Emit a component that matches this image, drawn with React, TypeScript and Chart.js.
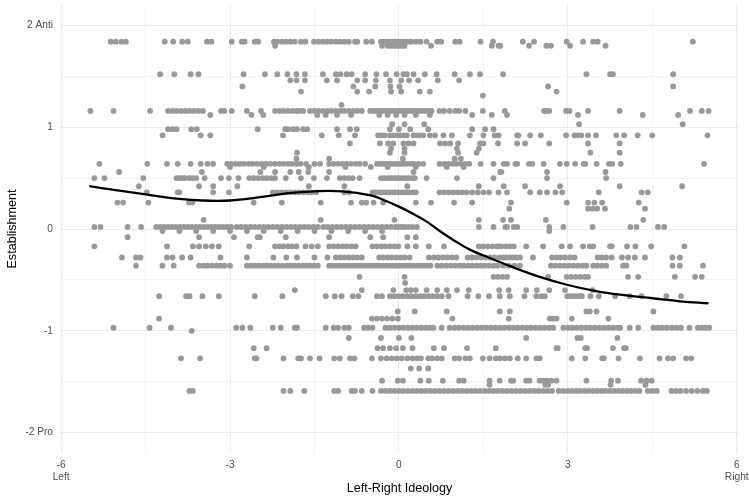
import React, { useEffect, useRef } from "react";
import { Chart, registerables } from "chart.js";
Chart.register(...registerables);

// ---- Data: x positions of the observed points at each y level ----
const r184 = [-5.12,-5.03,-4.93,-4.85,-4.16,-4.01,-3.85,-3.75,-3.41,-3.33,-2.97,-2.79,-2.74,-2.56,-2.5,-2.22,-2.16,-2.08,-2.01,-1.93,-1.85,-1.74,-1.66,-1.51,-1.43,-1.35,-1.28,-1.2,-1.12,-1.05,-0.97,-0.89,-0.78,-0.74,-0.58,-0.48,-0.32,-0.27,-0.22,-0.17,-0.12,-0.07,-0.02,0.03,0.08,0.13,0.18,0.22,0.3,0.38,0.49,0.68,0.75,1.0,1.08,1.45,1.67,2.2,2.4,2.98,3.27,3.45,3.53,5.22];
const r180 = [-2.2,-0.3,-0.2,-0.15,-0.1,-0.05,0.0,0.05,0.1,0.57,1.65,1.77,1.8,2.31,2.62,2.7,3.04,3.67];
const r152 = [-4.24,-3.99,-3.7,-3.56,-2.76,-2.38,-2.16,-1.98,-1.82,-1.67,-1.35,-1.12,-1.04,-0.93,-0.84,-0.6,-0.4,-0.23,-0.04,0.08,0.14,0.26,0.46,0.67,0.99,1.26,1.44,1.85,3.33,3.75,3.8,4.87];
const r146 = [-1.93,-1.82,-1.67,-1.28,-1.1,-0.74,-0.6,-0.41,-0.16,0.04,0.18,0.34,0.69,1.07];
const r140 = [-2.78,-0.81,-0.42,-0.15,0.01,2.65,4.87];
const r135 = [-1.74,-0.74,-0.53,-0.14,0.04,0.37,0.55,2.8];
const r131 = [1.49];
const r122 = [-1.02];
const r116 = [-5.48,-5.07,-4.42,-4.1,-4.02,-3.95,-3.87,-3.79,-3.72,-3.64,-3.56,-3.48,-3.16,-3.1,-2.97,-2.7,-2.45,-2.2,-2.12,-2.05,-1.97,-1.89,-1.82,-1.78,-1.7,-1.58,-1.5,-1.43,-1.35,-1.27,-1.2,-1.12,-1.04,-0.97,-0.89,-0.81,-0.74,-0.66,-0.51,-0.46,-0.41,-0.36,-0.31,-0.26,-0.21,-0.16,-0.11,-0.06,-0.01,0.04,0.09,0.14,0.19,0.24,0.29,0.34,0.4,0.46,0.52,0.58,0.72,0.8,0.9,1.0,1.07,1.18,1.49,1.88,2.58,2.62,2.67,2.97,3.03,3.36,3.92,5.17,5.38,5.5];
const r112 = [-3.35,-2.62,-2.41,-1.45,-1.3,-1.1,-0.85,-0.35,-0.2,-0.05,0.1,0.3,0.55,1.3,1.65,1.92,3.18,4.33,4.96];
const r103 = [-0.12,0.1,0.45,3.2,5.04];
const r098 = [-4.1,-4.02,-3.95,-3.69,-3.59,-2.51,-2.02,-1.97,-1.88,-1.81,-1.7,-1.63,-1.1,-0.87,-0.75,-0.16,0.0,0.2,0.52,1.3,1.53,1.68];
const r092 = [-4.2,-3.52,-3.35,-2.06,-1.37,-1.07,-0.78,-0.37,-0.31,-0.25,-0.16,-0.1,-0.04,0.02,0.08,0.14,0.26,0.32,0.37,0.43,0.55,0.64,0.79,0.94,1.26,1.5,1.7,1.77,2.1,2.12,2.33,2.52,2.97,3.12,3.18,3.24,3.36,3.5,3.86,4.0,4.24,4.5,5.48];
const r084 = [-0.87,-0.34,-0.19,-0.1,0.08,0.17,0.26,0.73,0.82,0.91,1.05,1.44,1.5,1.76,2.1,2.24,2.67,3.36,3.92];
const r079 = [-0.14,0.1,1.03,1.42];
const r075 = [-1.81,-0.16,0.1,1.05,1.38,3.4,3.92];
const r069 = [-1.82,-1.24,0.07,0.99,1.1];
const r064 = [-5.32,-4.47,-4.12,-3.93,-3.7,-3.52,-3.4,-3.3,-3.05,-2.98,-2.9,-2.82,-2.75,-2.67,-2.6,-2.52,-2.44,-2.36,-2.28,-2.2,-2.12,-2.05,-1.97,-1.9,-1.82,-1.75,-1.65,-1.5,-1.4,-1.24,-1.16,-1.08,-1.0,-0.93,-0.85,-0.77,-0.7,-0.6,-0.39,-0.34,-0.29,-0.24,-0.19,-0.14,-0.09,-0.04,0.0,0.05,0.1,0.15,0.22,0.27,0.35,0.43,0.72,0.8,0.88,0.95,1.02,1.1,1.18,1.25,1.45,1.68,1.86,1.92,2.07,2.1,2.31,2.37,2.57,2.86,2.98,3.13,3.28,3.31,3.51,3.73,3.79,3.94,5.42];
const r061 = [-3.0,-2.4,-1.6,-0.95,-0.5,-0.2,0.3,0.85,1.15];
const r056 = [-4.97,-3.5,-2.46,-2.2,-1.93,-1.78,-1.61,-1.24,0.26,1.8,1.82,2.63,3.67];
const r050 = [-5.41,-5.23,-4.54,-3.95,-3.9,-3.85,-3.8,-3.72,-3.66,-3.6,-3.45,-3.16,-3.02,-2.85,-2.66,-2.58,-2.5,-2.42,-2.35,-2.27,-2.2,-2.01,-1.74,-1.51,-1.28,-1.05,-0.97,-0.89,-0.82,-0.7,-0.32,-0.26,-0.2,-0.15,-0.1,-0.05,0.0,0.06,0.12,0.17,0.23,0.28,0.49,1.03,1.68,2.63,3.68];
const r042 = [-4.62,-3.55,-3.3,-2.87,-1.6,-0.97,0.15,1.42,1.86,2.24,2.86,3.92,5.03];
const r036 = [-4.48,-3.93,-3.9,-3.3,-3.02,-2.24,-2.16,-2.08,-2.0,-1.93,-1.85,-1.78,-1.7,-1.62,-1.55,-1.47,-0.97,-0.89,-0.47,-0.42,-0.37,-0.32,-0.27,-0.22,-0.17,-0.12,-0.07,-0.02,0.03,0.08,0.13,0.18,0.24,0.3,0.72,0.8,0.88,0.96,1.04,1.12,1.2,1.3,1.4,1.5,1.6,1.77,1.92,2.33,2.5,2.63,2.78,2.9,3.55,4.31,4.42];
const r026 = [-5.0,-4.9,-4.45,-3.73,-3.67,-2.58,-2.08,-1.39,-0.85,-0.66,-0.58,-0.45,-0.28,0.3,0.57,0.98,1.3,1.99,2.98,3.36,3.47,3.61,4.26];
const r020 = [1.96,3.44,3.52,4.37,3.36,3.66];
const r009 = [-3.47,-1.39,-0.08,1.42,1.85,1.99,2.61,4.34];
const r002 = [-5.41,-5.3,-4.82,-4.58,-4.31,-4.24,-4.17,-4.1,-4.03,-3.96,-3.89,-3.82,-3.75,-3.68,-3.61,-3.54,-3.47,-3.4,-3.33,-3.26,-3.19,-3.12,-3.05,-2.98,-2.88,-2.8,-2.72,-2.64,-2.56,-2.48,-2.4,-2.32,-2.24,-2.16,-2.08,-2.0,-1.92,-1.84,-1.76,-1.68,-1.6,-1.52,-1.44,-1.34,-1.26,-1.18,-1.1,-1.02,-0.94,-0.86,-0.78,-0.7,-0.62,-0.54,-0.46,-0.38,-0.3,-0.22,-0.14,-0.06,0.0,0.05,0.1,0.17,0.24,0.32,1.42,1.68,1.89,1.92,2.04,2.1,2.67,2.92,3.44,4.11,4.22,4.6,4.71];
const rm002 = [-4.2,-3.9,-3.6,-3.3,-3.0,-2.7,-2.4,-2.1,-1.8,-1.5,-1.2,-0.9,-0.6,-0.3,2.67];
const rm008 = [-4.82,-3.55,-2.93,-2.51,-2.47,-2.01,-1.24,-0.51,-0.28,0.15,0.3];
const rm017 = [-5.41,-4.12,-3.66,-3.55,-3.43,-3.32,-3.2,-2.66,-2.2,-2.12,-2.05,-1.97,-1.9,-1.82,-1.66,-1.55,-1.44,-1.24,-1.16,-1.08,-1.0,-0.93,-0.85,-0.77,-0.47,-0.39,-0.31,-0.24,-0.16,-0.08,-0.01,0.15,0.3,0.53,0.8,1.42,1.5,1.58,1.66,1.74,1.77,1.82,1.9,1.97,2.04,2.26,2.56,2.89,3.04,3.27,3.39,3.45,3.75,3.78,4.05,4.2,4.48,5.07];
const rm028 = [-4.92,-4.67,-4.59,-4.12,-4.02,-3.85,-3.7,-3.17,-2.7,-2.23,-2.0,-1.81,-1.5,-1.27,-1.12,-1.04,-0.97,-0.89,-0.81,-0.74,-0.66,-0.35,-0.28,-0.2,-0.13,-0.05,0.03,0.1,0.19,0.53,0.62,0.7,0.78,0.86,0.94,1.02,1.22,1.3,1.38,1.46,1.54,1.62,1.7,1.79,1.85,1.91,1.97,2.03,2.09,2.15,2.38,2.72,2.8,2.87,2.95,3.04,3.12,3.53,3.6,3.68,3.78,3.96,4.07,4.19,4.37,4.86,4.99];
const rm036 = [-4.67,-4.2,-4.0,-3.55,-3.47,-3.4,-3.32,-3.24,-3.17,-3.1,-3.0,-2.7,-2.63,-2.56,-2.49,-2.42,-2.35,-2.28,-2.21,-2.14,-2.07,-2.0,-1.93,-1.86,-1.79,-1.72,-1.65,-1.58,-1.51,-1.44,-1.24,-1.18,-1.12,-1.06,-1.0,-0.94,-0.88,-0.82,-0.76,-0.7,-0.64,-0.58,-0.52,-0.46,-0.4,-0.34,-0.28,-0.22,-0.16,-0.1,-0.04,0.02,0.08,0.14,0.2,0.26,0.32,0.38,0.44,0.5,0.56,0.68,0.76,0.84,0.92,1.0,1.08,1.15,1.23,1.3,1.38,1.45,1.52,1.6,1.68,1.75,1.85,1.95,2.05,2.15,2.7,2.78,2.86,2.94,3.02,3.1,3.18,3.26,3.33,3.45,3.52,3.6,3.68,3.98,4.04,4.86,4.99,5.4];
const rm047 = [-0.7,0.1,1.68,1.76,1.84,1.92,2.65,2.98,3.06,3.14,3.22,3.3,3.36,4.07,4.25,4.9,5.26,5.38];
const rm053 = [0.11];
const rm060 = [-1.85,-0.66,-0.1,0.13,0.21,0.3,0.49,0.68,0.85,1.03,1.24,1.78,1.95,2.26,2.45,2.67,2.95,3.44];
const rm066 = [-4.26,-3.78,-3.72,-3.49,-3.2,-2.56,-2.07,-1.3,-1.14,-1.02,-0.82,-0.72,-0.39,-0.3,-0.16,-0.08,0.0,0.07,0.15,0.22,0.3,0.38,0.45,0.53,0.6,0.68,0.76,0.88,1.22,1.41,1.6,1.79,1.97,2.23,2.44,2.53,2.59,2.99,3.05,3.11,3.17,3.22,3.25,3.4,3.55,3.84,4.1,4.31,4.75,5.01];
const rm081 = [-0.02,0.28,0.85,1.79,1.97,3.33,3.39,3.51,4.52];
const rm088 = [-4.26,-0.48,-0.39,-0.3,-0.21,-0.12,-0.02,0.95,1.95,2.68,2.74,2.8,3.07,3.72];
const rm097 = [-5.07,-4.43,-4.05,-2.89,-2.78,-2.64,-2.24,-2.1,-1.85,-1.81,-1.3,-1.16,-1.08,-0.97,-0.89,-0.62,-0.55,-0.47,-0.24,-0.16,-0.08,0.0,0.08,0.16,0.24,0.32,0.4,0.48,0.56,0.61,0.76,0.9,0.99,1.07,1.15,1.23,1.31,1.39,1.47,1.55,1.63,1.71,1.79,1.87,1.95,2.03,2.11,2.19,2.27,2.35,2.43,2.51,2.59,2.67,2.74,2.92,3.0,3.08,3.16,3.24,3.32,3.4,3.48,3.56,3.64,3.72,3.8,3.88,3.93,4.1,4.25,4.52,4.6,4.68,4.76,4.85,4.93,5.01,5.16,5.31,5.38,5.45,5.51];
const rm100 = [-3.68];
const rm107 = [-0.89,-0.32,0.0,0.22,2.26,3.17,3.23,3.88];
const rm117 = [-2.58,-2.35,-0.38,-0.28,-0.16,-0.05,0.07,0.24,0.62,0.8,1.21,1.72,2.8,2.82,3.31,3.34,3.8,4.0,4.03];
const rm127 = [-3.87,-3.53,-2.56,-2.53,-2.05,-1.79,-1.74,-1.58,-1.41,-1.15,-1.05,-0.87,-0.79,-0.48,-0.32,-0.22,-0.13,-0.04,0.05,0.15,0.24,0.32,0.39,0.52,0.59,0.68,0.76,0.99,1.07,1.18,1.26,1.49,1.61,1.72,1.79,1.88,1.97,2.11,2.26,2.44,2.5,3.07,3.31,3.61,3.64,3.9,4.28,4.63,4.78,4.87,5.1,5.19];
const rm137 = [0.21,0.36,0.52];
const rm149 = [-0.3,-0.02,0.07,0.38,0.53,0.78,1.07,1.15,1.61,1.79,1.99,2.03,2.26,2.32,2.5,2.56,2.63,2.71,2.8,3.33,3.77,3.89,4.3,4.4,4.49];
const rm153 = [1.61,2.6,2.65,3.76,4.38];
const rm159 = [-3.72,-3.66,-2.05,-1.93,-1.68,-1.15,-1.08,-0.84,-0.78,-0.66,-0.47,-0.32,-0.24,-0.16,-0.08,0.0,0.08,0.16,0.24,0.32,0.4,0.48,0.56,0.64,0.72,0.8,0.88,0.96,1.04,1.12,1.2,1.28,1.36,1.44,1.52,1.6,1.68,1.76,1.84,1.92,2.0,2.08,2.16,2.24,2.32,2.4,2.48,2.56,2.64,2.72,2.84,2.92,3.0,3.07,3.15,3.22,3.3,3.37,3.45,3.52,3.6,3.67,3.75,3.82,3.9,3.97,4.05,4.12,4.2,4.27,4.42,4.5,4.58,4.84,4.92,5.0,5.1,5.2,5.3,5.4,5.47];

const rows: [number, number[]][] = [
  [1.84, r184], [1.8, r180], [1.52, r152], [1.46, r146], [1.4, r140], [1.35, r135], [1.31, r131],
  [1.22, r122], [1.16, r116], [1.12, r112], [1.03, r103], [0.98, r098], [0.92, r092], [0.84, r084],
  [0.79, r079], [0.75, r075], [0.69, r069], [0.64, r064], [0.61, r061], [0.56, r056], [0.5, r050],
  [0.42, r042], [0.36, r036], [0.26, r026], [0.2, r020], [0.09, r009], [0.02, r002], [-0.02, rm002],
  [-0.08, rm008], [-0.17, rm017], [-0.28, rm028], [-0.36, rm036], [-0.47, rm047], [-0.53, rm053],
  [-0.6, rm060], [-0.66, rm066], [-0.81, rm081], [-0.88, rm088], [-0.97, rm097], [-1.0, rm100],
  [-1.07, rm107], [-1.17, rm117], [-1.27, rm127], [-1.37, rm137], [-1.49, rm149], [-1.53, rm153],
  [-1.59, rm159],
];

// Smoothed (loess) curve
const smoothX = [-5.5, -5.0, -4.5, -4.0, -3.5, -3.0, -2.5, -2.0, -1.5, -1.0, -0.5, -0.25, 0.0, 0.25, 0.5, 0.75, 1.0, 1.25, 1.5, 2.0, 2.5, 3.0, 3.5, 4.0, 4.5, 5.0, 5.5];
const smoothY = [0.42, 0.38, 0.34, 0.3, 0.28, 0.28, 0.31, 0.35, 0.37, 0.37, 0.33, 0.28, 0.22, 0.15, 0.07, -0.03, -0.12, -0.2, -0.26, -0.37, -0.47, -0.55, -0.61, -0.65, -0.68, -0.71, -0.73];

// Axes
const xTickValues = [-6, -4.5, -3, -1.5, 0, 1.5, 3, 4.5, 6];
const xTickLabels: (string | string[])[] = [["-6", "Left"], "", "-3", "", "0", "", "3", "", ["6", "Right"]];
const yTickValues = [-2, -1.5, -1, -0.5, 0, 0.5, 1, 1.5, 2];
const yTickLabels = ["-2 Pro", "", "-1", "", "0", "", "1", "", "2 Anti"];
const xTitle = "Left-Right Ideology";
const yTitle = "Establishment";

export default function App() {
  const ref = useRef<HTMLCanvasElement | null>(null);
  useEffect(() => {
    if (!ref.current) return;
    const pts: { x: number; y: number }[] = [];
    rows.forEach(([lvl, xs]) => xs.forEach((x) => pts.push({ x, y: lvl })));
    const curve = smoothX.map((x, i) => ({ x, y: smoothY[i] }));
    const font = "'Liberation Sans', Arial, Helvetica, sans-serif";
    const gridColor = (ctx: any) => (ctx.index % 2 === 0 ? "#ebebeb" : "#f4f4f4");
    const chart = new Chart(ref.current, {
      type: "scatter",
      data: {
        datasets: [
          {
            type: "line",
            data: curve,
            borderColor: "#000000",
            borderWidth: 2.3,
            pointRadius: 0,
            fill: false,
            tension: 0.4,
            order: 0,
          } as any,
          {
            data: pts,
            backgroundColor: "#999999",
            borderWidth: 0,
            pointRadius: 2.9,
            pointHoverRadius: 2.9,
            order: 1,
          },
        ],
      },
      options: {
        animation: false,
        responsive: false,
        layout: { padding: { top: 5, right: 10, left: 0, bottom: 0 } },
        plugins: { legend: { display: false }, tooltip: { enabled: false } },
        scales: {
          x: {
            type: "linear",
            min: -6.02,
            max: 6.04,
            afterBuildTicks: (s: any) => { s.ticks = xTickValues.map((v) => ({ value: v })); },
            afterFit: (s: any) => { s.height = 45; s.paddingLeft = 0; s.paddingRight = 0; },
            border: { display: false },
            grid: { color: gridColor, lineWidth: 1, drawTicks: false },
            ticks: {
              autoSkip: false,
              maxRotation: 0,
              padding: 7,
              color: "#4d4d4d",
              font: { family: font, size: 10.2, lineHeight: 1.1 },
              callback: (_v: any, i: number) => xTickLabels[i],
            },
            title: {
              display: true,
              text: xTitle,
              color: "#000000",
              font: { family: font, size: 12.6 },
              padding: { top: 0, bottom: 2 },
            },
          },
          y: {
            type: "linear",
            min: -2.2,
            max: 2.2,
            afterBuildTicks: (s: any) => { s.ticks = yTickValues.map((v) => ({ value: v })); },
            afterFit: (s: any) => { s.width = 60; s.paddingTop = 0; s.paddingBottom = 0; },
            border: { display: false },
            grid: { color: gridColor, lineWidth: 1, drawTicks: false },
            ticks: {
              autoSkip: false,
              padding: 7,
              color: "#4d4d4d",
              font: { family: font, size: 10.2 },
              callback: (_v: any, i: number) => yTickLabels[i],
            },
            title: {
              display: true,
              text: yTitle,
              color: "#000000",
              font: { family: font, size: 12.6 },
              padding: { top: 5, bottom: 0 },
            },
          },
        },
      },
    });
    return () => chart.destroy();
  }, []);
  return (
    <div style={{ position: "absolute", left: 0, top: 0, width: 749, height: 498, background: "#ffffff" }}>
      <canvas ref={ref} width={749} height={498} style={{ display: "block" }} />
    </div>
  );
}
